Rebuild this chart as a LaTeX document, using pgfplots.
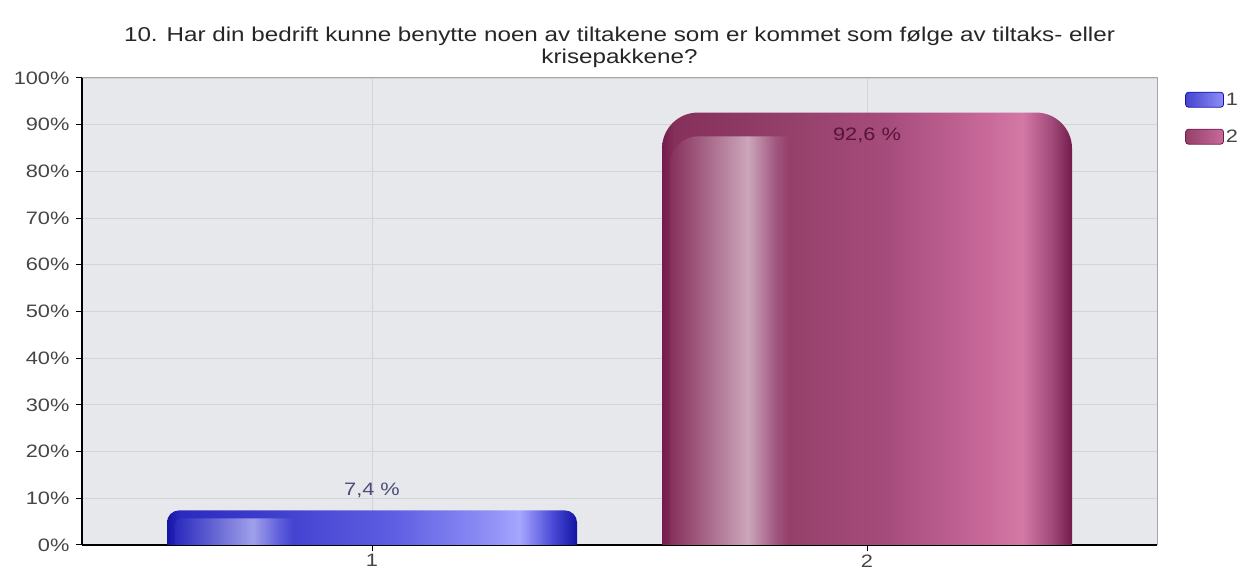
\documentclass[border=0pt]{standalone}
\usepackage{fontspec}
\setmainfont{Liberation Sans}[FakeStretch=1.21]
\usepackage{pgfplots}
\pgfplotsset{compat=1.18}

\definecolor{plotbg}{HTML}{E6E8EB}
\definecolor{gridc}{HTML}{D2D4D7}
\definecolor{ticktext}{HTML}{454545}

% blue bar
\definecolor{bA}{HTML}{1414A4}
\definecolor{bB}{HTML}{2A2ABE}
\definecolor{bC}{HTML}{4444D2}
\definecolor{bD}{HTML}{5E5EE2}
\definecolor{bE}{HTML}{8E8EF6}
\definecolor{bF}{HTML}{A6A6FF}
\definecolor{bG}{HTML}{4A4AD6}
\definecolor{bH}{HTML}{A0A0EA}
\definecolor{bI}{HTML}{5A5ADA}
% magenta bar
\definecolor{mA}{HTML}{731B4B}
\definecolor{mB}{HTML}{86305C}
\definecolor{mC}{HTML}{95406B}
\definecolor{mD}{HTML}{A64C7C}
\definecolor{mE}{HTML}{C96A9B}
\definecolor{mF}{HTML}{D479A6}
\definecolor{mG}{HTML}{A24A7A}
\definecolor{mH}{HTML}{CCA6BB}
\definecolor{mI}{HTML}{A0557E}

% stops sit between 25bp and 75bp (p -> 25+50p)
\pgfdeclarehorizontalshading{bluemain}{100bp}{color(0bp)=(bA); color(25bp)=(bA);
  color(26.5bp)=(bB); color(40.5bp)=(bC); color(52.5bp)=(bD); color(64bp)=(bE);
  color(68bp)=(bF); color(72bp)=(bG); color(75bp)=(bA); color(100bp)=(bA)}
\pgfdeclarehorizontalshading{bluepanel}{100bp}{color(0bp)=(bB); color(25bp)=(bB);
  color(58bp)=(bH); color(70bp)=(bI); color(75bp)=(bC); color(100bp)=(bC)}
\pgfdeclarehorizontalshading{magmain}{100bp}{color(0bp)=(mA); color(25bp)=(mA);
  color(26.5bp)=(mB); color(40.5bp)=(mC); color(52.5bp)=(mD); color(65bp)=(mE);
  color(69bp)=(mF); color(72.5bp)=(mG); color(75bp)=(mA); color(100bp)=(mA)}
\pgfdeclarehorizontalshading{magpanel}{100bp}{color(0bp)=(mB); color(25bp)=(mB);
  color(58bp)=(mH); color(70bp)=(mI); color(75bp)=(mC); color(100bp)=(mC)}

\pgfplotsset{
  barlabel/.style={only marks, mark=*, mark size=0pt, forget plot,
    nodes near coords={\pgfmathprintnumber[fixed,precision=1,use comma]{\pgfplotspointmeta}~\%},
    every node near coord/.append style={anchor=center,
      font=\fontsize{18}{20}\selectfont}},
}

\begin{document}
\begin{tikzpicture}
\useasboundingbox (-82pt,-33pt) rectangle (1165pt,545pt);
\begin{axis}[
    at={(0pt,0pt)}, anchor=south west,
    scale only axis,
    width=1075pt, height=467pt,
    xmin=0.41414, xmax=2.58586,
    ymin=0, ymax=100,
    xtick={1,2}, ytick={0,10,...,100},
    yticklabel={\pgfmathprintnumber{\tick}\%},
    /pgf/number format/assume math mode=true,
    tick label style={font=\fontsize{18}{20}\selectfont, text=ticktext},
    yticklabel style={xshift=-3pt},
    tick align=outside, major tick length=6pt,
    tick style={black, line width=1pt},
    axis x line*=bottom, axis y line*=left,
    axis line style={black, line width=1.2pt, -},
    axis background/.style={fill=plotbg, draw=gray!70, line width=1pt},
    grid=major, major grid style={draw=gridc, line width=0.8pt},
    title={10. Har din bedrift kunne benytte noen av tiltakene som er kommet som følge av tiltaks- eller\\krisepakkene?},
    title style={font=\fontsize{20}{22}\selectfont, text=black!85, align=center,
        at={(0.5,1)}, anchor=south, inner sep=2pt, yshift=2pt},
    legend style={at={(rel axis cs:1.026,0.973)}, anchor=north west,
        draw=none, fill=none, inner sep=0pt, row sep=19pt,
        font=\fontsize{18}{20}\selectfont, text=ticktext},
    legend cell align=left,
]

% bar 1 (7.4 %): body; the foot runs below 0 and is clipped by the axis
\addplot[shade, shading=bluemain, draw=none, rounded corners=12pt,
    legend image code/.code={\shade[draw=bA, line width=0.8pt, rounded corners=3pt,
        left color=bC, right color=bE] (0pt,-7.5pt) rectangle (38pt,7.5pt);}]
  coordinates {(0.58586,-20) (0.58586,7.4) (1.41414,7.4) (1.41414,-20)};
\addlegendentry{1}

% bar 2 (92.6 %)
\addplot[shade, shading=magmain, draw=none, rounded corners=36pt,
    legend image code/.code={\shade[draw=mA, line width=0.8pt, rounded corners=3pt,
        left color=mC, right color=mE] (0pt,-7.5pt) rectangle (38pt,7.5pt);}]
  coordinates {(1.58586,-20) (1.58586,92.6) (2.41414,92.6) (2.41414,-20)};
\addlegendentry{2}

% glossy highlight panels on the left of each bar (start point = square top-right corner)
\addplot[forget plot, shade, shading=bluepanel, draw=none, rounded corners=7pt]
  coordinates {(0.84040,5.7) (0.60202,5.7) (0.60202,-20) (0.84040,-20)};
\addplot[forget plot, shade, shading=magpanel, draw=none, rounded corners=28pt]
  coordinates {(1.84040,87.5) (1.60202,87.5) (1.60202,-20) (1.84040,-20)};

% value labels
\addplot[barlabel, every node near coord/.append style={yshift=20pt, text=black!55!blue!40!gray}]
  coordinates {(1,7.4)};
\addplot[barlabel, every node near coord/.append style={yshift=-23pt, text=mA!75!black}]
  coordinates {(2,92.6)};

\end{axis}
\end{tikzpicture}
\end{document}
